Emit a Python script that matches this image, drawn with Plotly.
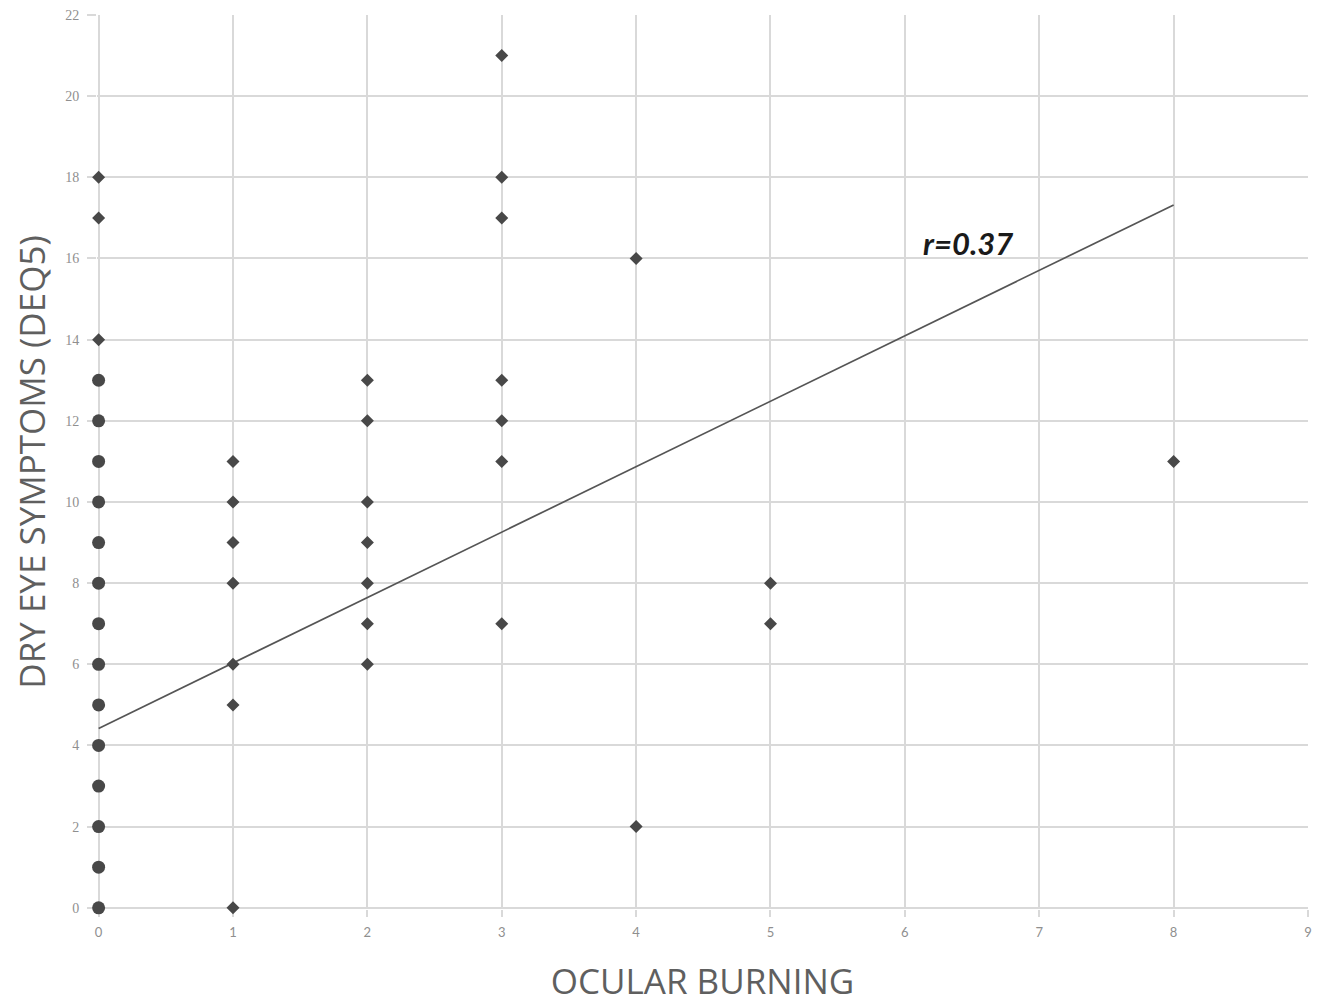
import plotly.graph_objects as go

# points at x=0 drawn as round blobs (heavily overlapped diamonds)
x0_round_y = [0, 1, 2, 3, 4, 5, 6, 7, 8, 9, 10, 11, 12, 13]
# single diamonds at x=0
x0_diam_y = [14, 17, 18]
# other points
pts_x = [1, 1, 1, 1, 1, 1, 1,
         2, 2, 2, 2, 2, 2, 2,
         3, 3, 3, 3, 3, 3, 3,
         4, 4,
         5, 5,
         8]
pts_y = [0, 5, 6, 8, 9, 10, 11,
         6, 7, 8, 9, 10, 12, 13,
         7, 11, 12, 13, 17, 18, 21,
         2, 16,
         7, 8,
         11]
# trend line
trend_x = [0, 8]
trend_y = [4.42, 17.32]
r_label = "r=0.37"

MC = "#484848"
fig = go.Figure()
fig.add_trace(go.Scatter(x=trend_x, y=trend_y, mode="lines",
                         line=dict(color="#555555", width=1.7),
                         showlegend=False, hoverinfo="skip"))
fig.add_trace(go.Scatter(x=[0] * len(x0_round_y), y=x0_round_y, mode="markers",
                         marker=dict(symbol="circle", size=13, color=MC),
                         showlegend=False, cliponaxis=False))
fig.add_trace(go.Scatter(x=[0] * len(x0_diam_y), y=x0_diam_y, mode="markers",
                         marker=dict(symbol="diamond", size=10, color=MC),
                         showlegend=False, cliponaxis=False))
fig.add_trace(go.Scatter(x=pts_x, y=pts_y, mode="markers",
                         marker=dict(symbol="diamond", size=10, color=MC),
                         showlegend=False, cliponaxis=False))

fig.add_annotation(x=6.47, y=16.38, text="<b><i>" + r_label + "</i></b>",
                   showarrow=False, font=dict(family="Lato, Liberation Sans", size=31, color="#1a1a1a"))

fig.update_layout(
    width=1318, height=997,
    margin=dict(l=89, r=18, t=7, b=96),
    plot_bgcolor="white", paper_bgcolor="white",
    font=dict(family="Open Sans, Liberation Sans", color="#7f7f7f"),
)
fig.update_xaxes(range=[-0.012, 9], tickvals=list(range(10)), showgrid=True, gridcolor="#d9d9d9", gridwidth=2,
                 zeroline=False, showline=False, layer="below traces",
                 ticks="outside", ticklen=7, tickcolor="#d9d9d9", tickwidth=2, automargin=False,
                 ticklabelstandoff=4, ticklabeloverflow="allow",
                 tickfont=dict(size=13, color="#8f8f8f", family="Lato"),
                 title=dict(text="OCULAR BURNING", font=dict(size=35, color="#5f5f5f", family="Open Sans"), standoff=30))
fig.update_yaxes(range=[-0.03, 22], tickvals=list(range(0, 23, 2)), showgrid=True, gridcolor="#d9d9d9", gridwidth=2,
                 zeroline=False, showline=False, layer="below traces",
                 ticks="outside", ticklen=9, tickcolor="#d9d9d9", tickwidth=2, automargin=False,
                 ticklabelstandoff=5, ticklabeloverflow="allow",
                 tickfont=dict(size=14, color="#8f8f8f", family="Liberation Serif"),
                 title=dict(text="DRY EYE SYMPTOMS (DEQ5)", font=dict(size=35, color="#5f5f5f", family="Open Sans"), standoff=28))

fig.write_html("out.html")
